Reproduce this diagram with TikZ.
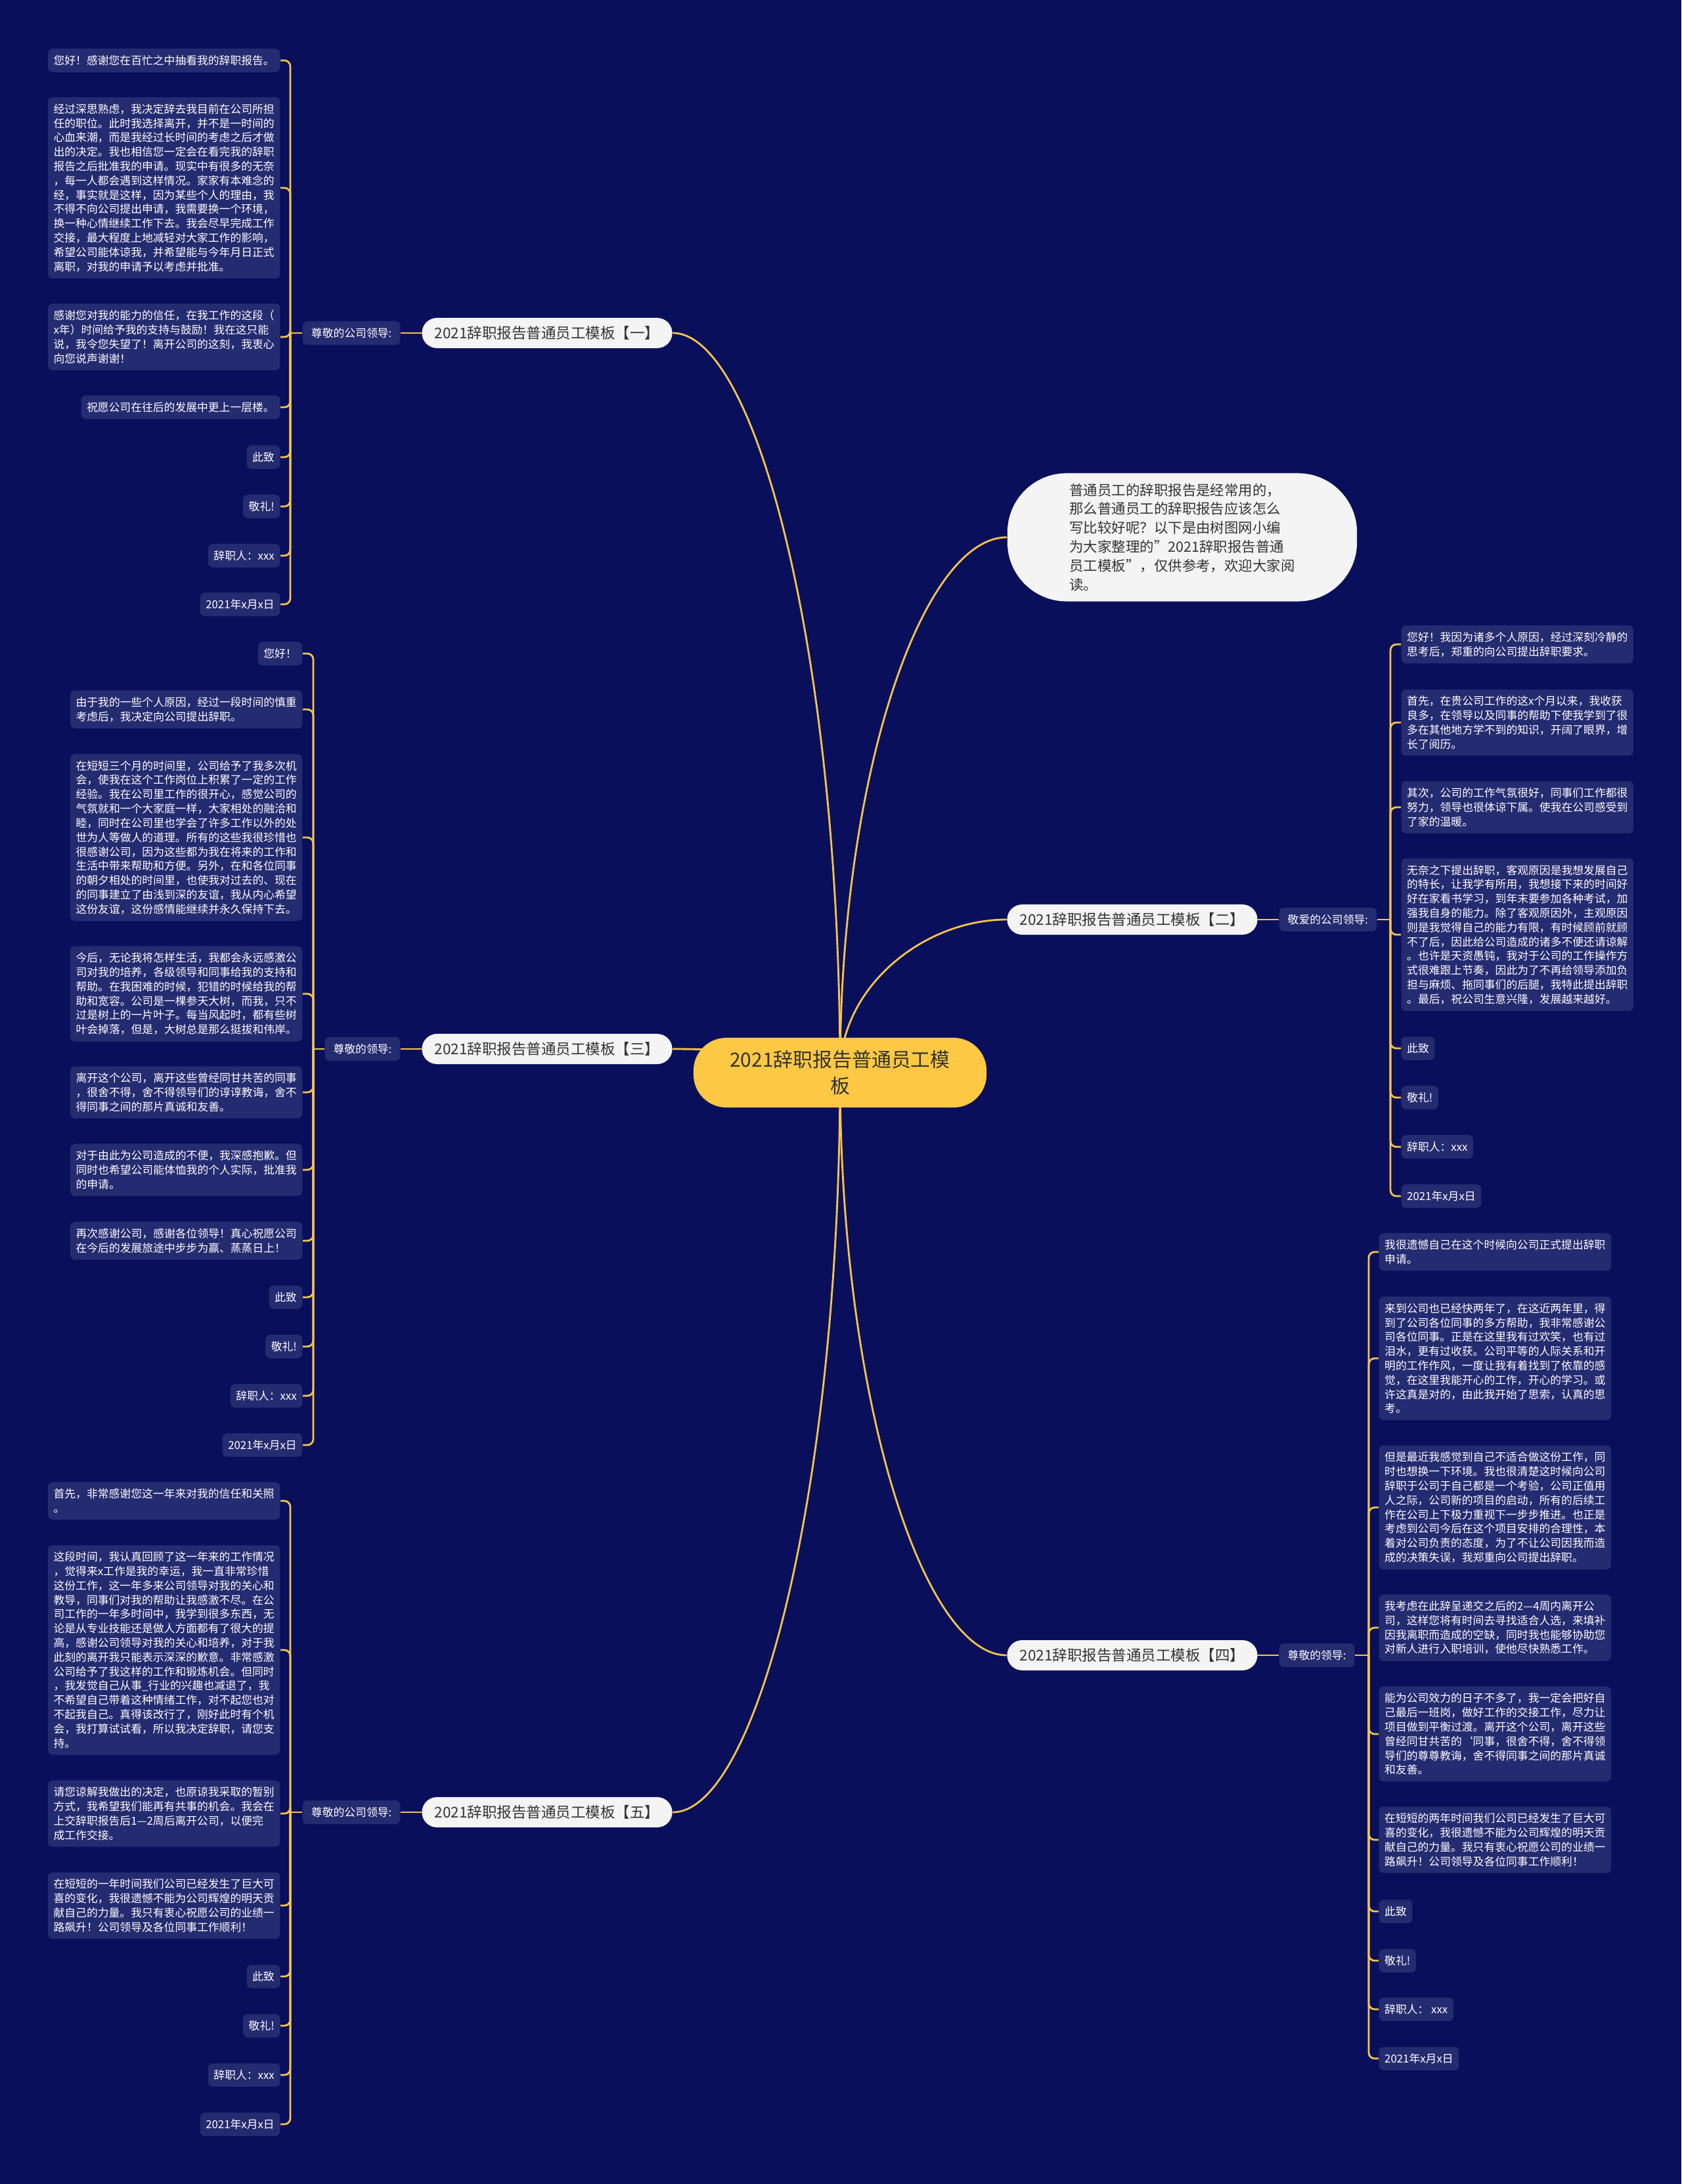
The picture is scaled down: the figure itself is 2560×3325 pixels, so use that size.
\documentclass[tikz,border=0pt]{standalone}
\usepackage{fontspec}
\setmainfont{Noto Sans CJK SC}
\usepackage{xcolor}
\usetikzlibrary{calc, positioning}

\definecolor{bgblue}{HTML}{0A0F5B}
\definecolor{leafblue}{HTML}{252B70}
\definecolor{lineyellow}{HTML}{F6C54A}
\definecolor{rootyellow}{HTML}{FDC844}
\definecolor{pillwhite}{HTML}{F4F4F4}
\definecolor{inkgray}{HTML}{333333}

\pgfdeclarelayer{back}
\pgfdeclarelayer{edges}
\pgfsetlayers{back,edges,main}

\tikzset{
  root/.style={fill=rootyellow, text=inkgray, align=center, rounded corners=0.5cm,
    minimum width=4.46cm, minimum height=1.06cm, inner sep=0pt,
    font=\fontsize{8.5pt}{11.3pt}\selectfont},
  intro/.style={fill=pillwhite, text=inkgray, align=left, rounded corners=0.9cm,
    minimum width=5.32cm, minimum height=1.95cm, inner sep=0pt,
    font=\fontsize{6.1pt}{8.2pt}\selectfont},
  branch/.style={fill=pillwhite, text=inkgray, rounded corners=0.23cm,
    minimum width=3.81cm, minimum height=0.46cm, inner sep=0pt,
    font=\fontsize{6.4pt}{8pt}\selectfont},
  tag/.style={fill=leafblue, text=white, rounded corners=0.07cm,
    inner xsep=0.13cm, inner ysep=0pt, minimum height=0.36cm,
    font=\fontsize{4.78pt}{6pt}\selectfont},
  leaf/.style={fill=leafblue, text=white, align=left, rounded corners=0.07cm,
    inner xsep=0.085cm, inner ysep=0.1cm,
    font=\fontsize{4.78pt}{6.2pt}\selectfont},
  link/.style={lineyellow, line width=0.8pt},
  elbow/.style={lineyellow, line width=0.8pt, rounded corners=0.09cm},
}

\begin{document}
\begin{tikzpicture}[x=0.01cm, y=-0.01cm]
    % 背景
    \begin{pgfonlayer}{back}
        \fill[bgblue] (0,0) rectangle (2560,3325);
    \end{pgfonlayer}

    % 中心主题
    \node[root] (root) at (1279,1633) {2021辞职报告普通员工模\\板};

    % 引言
    \node[intro] (intro) at (1800,818) {普通员工的辞职报告是经常用的，\\那么普通员工的辞职报告应该怎么\\写比较好呢？以下是由树图网小编\\为大家整理的\symbol{"22}2021辞职报告普通\\员工模板\symbol{"22}，仅供参考，欢迎大家阅\\读。};

    % 五个模板
    \node[branch] (b1) at (833,507) {2021辞职报告普通员工模板【一】};
    \node[branch] (b2) at (1724,1400) {2021辞职报告普通员工模板【二】};
    \node[branch] (b3) at (833,1597) {2021辞职报告普通员工模板【三】};
    \node[branch] (b4) at (1724,2520) {2021辞职报告普通员工模板【四】};
    \node[branch] (b5) at (833,2759) {2021辞职报告普通员工模板【五】};

    % 称呼
    \node[tag, anchor=east] (t1) at (610,507) {尊敬的公司领导:};
    \node[tag, anchor=west] (t2) at (1947,1400) {敬爱的公司领导:};
    \node[tag, anchor=east] (t3) at (610,1597) {尊敬的领导:};
    \node[tag, anchor=west] (t4) at (1947,2520) {尊敬的领导:};
    \node[tag, anchor=east] (t5) at (610,2759) {尊敬的公司领导:};

    \coordinate (s1) at (442,507);
    \coordinate (s2) at (2117,1400);
    \coordinate (s3) at (477,1597);
    \coordinate (s4) at (2084,2520);
    \coordinate (s5) at (442,2759);

    % 主干连线
    \begin{pgfonlayer}{edges}
        \foreach \b/\dy/\dx in {b1.east/-631/128, b3.east/-20/128, b5.east/631/128,
                                intro.west/-456/-128, b2.west/-130/-127, b4.west/497/-127}
            \draw[link] (root.center) .. controls +(0,\dy) and +(\dx,0) .. (\b);
        \foreach \k in {1,3,5} {
            \draw[link] (t\k.east) -- (b\k.west);
            \draw[link] (t\k.west) -- (s\k);
        }
        \foreach \k in {2,4} {
            \draw[link] (b\k.east) -- (t\k.west);
            \draw[link] (t\k.east) -- (s\k);
        }
    \end{pgfonlayer}

    % 模板一
    \foreach \y/\t [count=\i] in {
        92/{您好！感谢您在百忙之中抽看我的辞职报告。},
        286/{经过深思熟虑，我决定辞去我目前在公司所担\\任的职位。此时我选择离开，并不是一时间的\\心血来潮，而是我经过长时间的考虑之后才做\\出的决定。我也相信您一定会在看完我的辞职\\报告之后批准我的申请。现实中有很多的无奈\\，每一人都会遇到这样情况。家家有本难念的\\经，事实就是这样，因为某些个人的理由，我\\不得不向公司提出申请，我需要换一个环境，\\换一种心情继续工作下去。我会尽早完成工作\\交接，最大程度上地减轻对大家工作的影响，\\希望公司能体谅我，并希望能与今年月日正式\\离职，对我的申请予以考虑并批准。},
        513/{感谢您对我的能力的信任，在我工作的这段（\\x年）时间给予我的支持与鼓励！我在这只能\\说，我令您失望了！离开公司的这刻，我衷心\\向您说声谢谢！},
        620/{祝愿公司在往后的发展中更上一层楼。},
        696/{此致}, 771/{敬礼!}, 846/{辞职人：xxx}, 920/{2021年x月x日}} {
        \node[leaf, anchor=east] (L1-\i) at (427,\y) {\t};
        \begin{pgfonlayer}{edges}
            \draw[elbow] (s1) |- (L1-\i.east);
        \end{pgfonlayer}
    }

    % 模板二
    \foreach \y/\t [count=\i] in {
        981/{您好！我因为诸多个人原因，经过深刻冷静的\\思考后，郑重的向公司提出辞职要求。},
        1100/{首先，在贵公司工作的这x个月以来，我收获\\良多，在领导以及同事的帮助下使我学到了很\\多在其他地方学不到的知识，开阔了眼界，增\\长了阅历。},
        1229/{其次，公司的工作气氛很好，同事们工作都很\\努力，领导也很体谅下属。使我在公司感受到\\了家的温暖。},
        1423/{无奈之下提出辞职，客观原因是我想发展自己\\的特长，让我学有所用，我想接下来的时间好\\好在家看书学习，到年末要参加各种考试，加\\强我自身的能力。除了客观原因外，主观原因\\则是我觉得自己的能力有限，有时候顾前就顾\\不了后，因此给公司造成的诸多不便还请谅解\\。也许是天资愚钝，我对于公司的工作操作方\\式很难跟上节奏，因此为了不再给领导添加负\\担与麻烦、拖同事们的后腿，我特此提出辞职\\。最后，祝公司生意兴隆，发展越来越好。},
        1596/{此致}, 1671/{敬礼!}, 1746/{辞职人：xxx}, 1821/{2021年x月x日}} {
        \node[leaf, anchor=west] (L2-\i) at (2133,\y) {\t};
        \begin{pgfonlayer}{edges}
            \draw[elbow] (s2) |- (L2-\i.west);
        \end{pgfonlayer}
    }

    % 模板三
    \foreach \y/\t [count=\i] in {
        995/{您好！},
        1080/{由于我的一些个人原因，经过一段时间的慎重\\考虑后，我决定向公司提出辞职。},
        1275/{在短短三个月的时间里，公司给予了我多次机\\会，使我在这个工作岗位上积累了一定的工作\\经验。我在公司里工作的很开心，感觉公司的\\气氛就和一个大家庭一样，大家相处的融洽和\\睦，同时在公司里也学会了许多工作以外的处\\世为人等做人的道理。所有的这些我很珍惜也\\很感谢公司，因为这些都为我在将来的工作和\\生活中带来帮助和方便。另外，在和各位同事\\的朝夕相处的时间里，也使我对过去的、现在\\的同事建立了由浅到深的友谊，我从内心希望\\这份友谊，这份感情能继续并永久保持下去。},
        1513/{今后，无论我将怎样生活，我都会永远感激公\\司对我的培养，各级领导和同事给我的支持和\\帮助。在我困难的时候，犯错的时候给我的帮\\助和宽容。公司是一棵参天大树，而我，只不\\过是树上的一片叶子。每当风起时，都有些树\\叶会掉落，但是，大树总是那么挺拔和伟岸。},
        1663/{离开这个公司，离开这些曾经同甘共苦的同事\\，很舍不得，舍不得领导们的谆谆教诲，舍不\\得同事之间的那片真诚和友善。},
        1781/{对于由此为公司造成的不便，我深感抱歉。但\\同时也希望公司能体恤我的个人实际，批准我\\的申请。},
        1889/{再次感谢公司，感谢各位领导！真心祝愿公司\\在今后的发展旅途中步步为赢、蒸蒸日上！},
        1975/{此致}, 2050/{敬礼!}, 2125/{辞职人：xxx}, 2200/{2021年x月x日}} {
        \node[leaf, anchor=east] (L3-\i) at (461,\y) {\t};
        \begin{pgfonlayer}{edges}
            \draw[elbow] (s3) |- (L3-\i.east);
        \end{pgfonlayer}
    }

    % 模板四
    \foreach \y/\t [count=\i] in {
        1906/{我很遗憾自己在这个时候向公司正式提出辞职\\申请。},
        2068/{来到公司也已经快两年了，在这近两年里，得\\到了公司各位同事的多方帮助，我非常感谢公\\司各位同事。正是在这里我有过欢笑，也有过\\泪水，更有过收获。公司平等的人际关系和开\\明的工作作风，一度让我有着找到了依靠的感\\觉，在这里我能开心的工作，开心的学习。或\\许这真是对的，由此我开始了思索，认真的思\\考。},
        2295/{但是最近我感觉到自己不适合做这份工作，同\\时也想换一下环境。我也很清楚这时候向公司\\辞职于公司于自己都是一个考验，公司正值用\\人之际，公司新的项目的启动，所有的后续工\\作在公司上下极力重视下一步步推进。也正是\\考虑到公司今后在这个项目安排的合理性，本\\着对公司负责的态度，为了不让公司因我而造\\成的决策失误，我郑重向公司提出辞职。},
        2478/{我考虑在此辞呈递交之后的2—4周内离开公\\司，这样您将有时间去寻找适合人选，来填补\\因我离职而造成的空缺，同时我也能够协助您\\对新人进行入职培训，使他尽快熟悉工作。},
        2640/{能为公司效力的日子不多了，我一定会把好自\\己最后一班岗，做好工作的交接工作，尽力让\\项目做到平衡过渡。离开这个公司，离开这些\\曾经同甘共苦的\symbol{"60}同事，很舍不得，舍不得领\\导们的尊尊教诲，舍不得同事之间的那片真诚\\和友善。},
        2801/{在短短的两年时间我们公司已经发生了巨大可\\喜的变化，我很遗憾不能为公司辉煌的明天贡\\献自己的力量。我只有衷心祝愿公司的业绩一\\路飙升！公司领导及各位同事工作顺利！},
        2910/{此致}, 2985/{敬礼!}, 3059/{辞职人： xxx}, 3134/{2021年x月x日}} {
        \node[leaf, anchor=west] (L4-\i) at (2099,\y) {\t};
        \begin{pgfonlayer}{edges}
            \draw[elbow] (s4) |- (L4-\i.west);
        \end{pgfonlayer}
    }

    % 模板五
    \foreach \y/\t [count=\i] in {
        2285/{首先，非常感谢您这一年来对我的信任和关照\\。},
        2512/{这段时间，我认真回顾了这一年来的工作情况\\，觉得来x工作是我的幸运，我一直非常珍惜\\这份工作，这一年多来公司领导对我的关心和\\教导，同事们对我的帮助让我感激不尽。在公\\司工作的一年多时间中，我学到很多东西，无\\论是从专业技能还是做人方面都有了很大的提\\高，感谢公司领导对我的关心和培养，对于我\\此刻的离开我只能表示深深的歉意。非常感激\\公司给予了我这样的工作和锻炼机会。但同时\\，我发觉自己从事\_行业的兴趣也减退了，我\\不希望自己带着这种情绪工作，对不起您也对\\不起我自己。真得该改行了，刚好此时有个机\\会，我打算试试看，所以我决定辞职，请您支\\持。},
        2761/{请您谅解我做出的决定，也原谅我采取的暂别\\方式，我希望我们能再有共事的机会。我会在\\上交辞职报告后1—2周后离开公司，以便完\\成工作交接。},
        2901/{在短短的一年时间我们公司已经发生了巨大可\\喜的变化，我很遗憾不能为公司辉煌的明天贡\\献自己的力量。我只有衷心祝愿公司的业绩一\\路飙升！公司领导及各位同事工作顺利！},
        3009/{此致}, 3084/{敬礼!}, 3159/{辞职人：xxx}, 3234/{2021年x月x日}} {
        \node[leaf, anchor=east] (L5-\i) at (427,\y) {\t};
        \begin{pgfonlayer}{edges}
            \draw[elbow] (s5) |- (L5-\i.east);
        \end{pgfonlayer}
    }
\end{tikzpicture}
\end{document}
